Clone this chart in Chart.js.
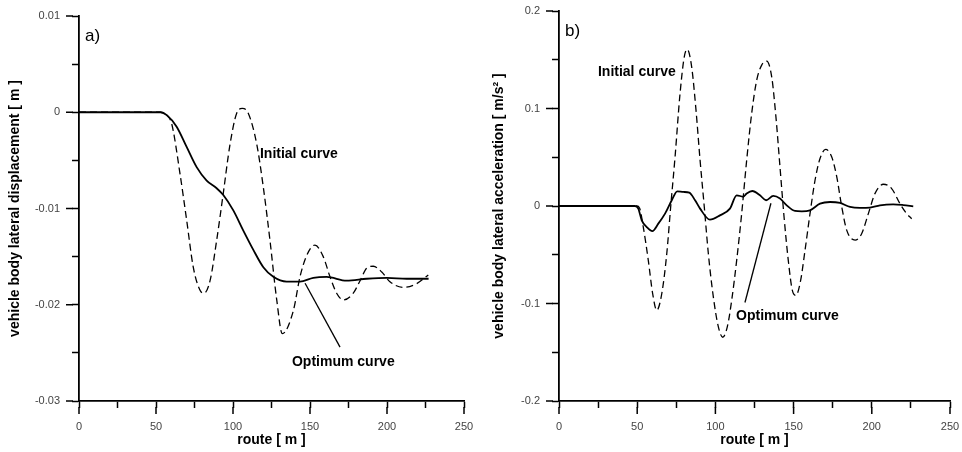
<!DOCTYPE html>
<html>
<head>
<meta charset="utf-8">
<script src="https://cdn.jsdelivr.net/npm/chart.js@4/dist/chart.umd.min.js"></script>
<style>
	body { margin: 0; background: #fff; }
	#wrap { position: relative; width: 962px; height: 452px; }
	canvas { position: absolute; top: 0; }
</style>
</head>
<body>
<div id="wrap">
	<canvas id="chartA" width="480" height="452" style="left:0"></canvas>
	<canvas id="chartB" width="482" height="452" style="left:480px"></canvas>
</div>
<script>

// panel a) lateral displacement [m]
const routeA_opt = [0, 53, 57, 63.4, 69.9, 76.4, 82.9, 89.4, 93.7, 100.2, 106.7, 113.2, 119.7, 126.2, 134.8, 143.5, 152.1, 160.8, 173.8, 186.8, 199.8, 212.8, 227];
const dispA_opt = [0, 0, -0.0003, -0.0015, -0.0036, -0.0057, -0.0071, -0.0079, -0.0086, -0.0102, -0.0123, -0.0143, -0.0161, -0.0171, -0.0176, -0.0176, -0.0172, -0.0171, -0.0175, -0.0173, -0.0172, -0.0173, -0.0173];

const routeA_init = [0, 53, 57, 60.2, 65.6, 69.9, 74.2, 78.6, 81.2, 85.1, 89.4, 93.7, 98.1, 102.4, 106, 109.9, 115.4, 119.7, 124, 128.4, 132, 139.2, 143.5, 147.8, 153.2, 158.6, 163, 167.3, 171.6, 178.1, 182.5, 186.8, 191.1, 196.6, 201.9, 210.6, 219.3, 226.8];
const dispA_init = [0, 0, -0.0003, -0.0012, -0.0064, -0.0112, -0.0161, -0.0185, -0.0188, -0.0175, -0.0133, -0.0084, -0.0033, -0.0001, 0.0004, -0.0001, -0.0033, -0.0078, -0.0133, -0.0195, -0.0230, -0.0206, -0.0171, -0.0149, -0.0138, -0.0150, -0.0171, -0.0188, -0.0195, -0.0188, -0.0175, -0.0162, -0.0160, -0.0166, -0.0176, -0.0182, -0.0178, -0.0169];

// panel b) lateral acceleration [m/s2]
const routeB_opt = [0, 48.6, 50.7, 52.9, 56.1, 59.7, 63.5, 67.8, 72.1, 75.6, 79.5, 83.3, 87, 90.2, 96.5, 102.9, 109.3, 113.6, 117.8, 120, 123.6, 128.5, 132.4, 137, 141.3, 145.6, 150.9, 155.2, 160.5, 166.9, 173.3, 179.7, 186.1, 192.5, 198.8, 205.2, 213.7, 220.1, 226.5];
const accB_opt = [0, 0, -0.0027, -0.0147, -0.0216, -0.0257, -0.0181, -0.0078, 0.0059, 0.0151, 0.0144, 0.0137, 0.0059, -0.0027, -0.014, -0.0096, -0.0027, 0.011, 0.0095, 0.0128, 0.0154, 0.011, 0.0059, 0.0103, 0.0076, 0.0007, -0.0051, -0.0055, -0.0044, 0.0024, 0.0041, 0.0031, -0.001, -0.002, -0.0017, 0.0007, 0.0017, 0.001, -0.0003];

const routeB_init = [0, 49.7, 51.5, 53.9, 57.1, 59.9, 62.5, 65.7, 68.9, 71.4, 74.2, 77.4, 80.1, 82, 84.8, 87.6, 90.2, 92.9, 95.5, 98.7, 101.9, 104.7, 107.6, 110.4, 113.6, 116.8, 120, 123.2, 126.4, 129.6, 132.8, 136, 138.7, 141.3, 143.9, 146.6, 149.2, 151.5, 154.5, 157.3, 160.5, 163.7, 166.9, 170.5, 174.4, 177.6, 180.8, 184, 189.3, 193.5, 197.8, 202, 207.4, 212.7, 218, 222.3, 225.5];
const accB_init = [0, 0, -0.002, -0.0216, -0.0558, -0.090, -0.107, -0.090, -0.049, -0.001, 0.0503, 0.1155, 0.153, 0.1607, 0.143, 0.0983, 0.047, -0.001, -0.049, -0.0935, -0.124, -0.1346, -0.124, -0.0969, -0.0558, -0.0078, 0.047, 0.095, 0.129, 0.1445, 0.1486, 0.1325, 0.0914, 0.040, -0.0113, -0.0558, -0.0866, -0.0917, -0.0763, -0.0455, -0.0078, 0.0264, 0.0487, 0.058, 0.0503, 0.0298, -0.001, -0.025, -0.035, -0.0284, -0.0078, 0.0127, 0.0223, 0.0179, 0.0024, -0.0078, -0.013];

// text labels and leader lines, in data units
const notesA = [
	{ text: 'Initial curve', x: 117.5, y: -0.0044 },
	{ text: 'Optimum curve', x: 138.3, y: -0.0260 }
];
const leaderA = [[169.5, -0.0244], [146.8, -0.01777]];
const notesB = [
	{ text: 'Initial curve', x: 24.9, y: 0.1373 },
	{ text: 'Optimum curve', x: 113.2, y: -0.1133 }
];
const leaderB = [[118.9, -0.099], [135.5, 0.0028]];

const FONT = 'Arial, "Liberation Sans", sans-serif';

function zip(xs, ys) {
	return xs.map((x, i) => ({ x: x, y: ys[i] }));
}

function isMajor(v, step) {
	return Math.abs(Math.round(v / step) * step - v) < 1e-9;
}

// longer tick marks for the labelled ticks, plus notes and panel letter
const decorPlugin = {
	id: 'decor',
	afterDraw(chart, args, opts) {
		const ctx = chart.ctx;
		const xs = chart.scales.x, ys = chart.scales.y;
		ctx.save();
		ctx.strokeStyle = '#000';
		ctx.lineWidth = 1.5;
		ctx.beginPath();
		xs.ticks.forEach(t => {
			if (isMajor(t.value, 50)) {
				const px = xs.getPixelForValue(t.value);
				ctx.moveTo(px, xs.top + 6);
				ctx.lineTo(px, xs.top + 13);
			}
		});
		ys.ticks.forEach(t => {
			if (isMajor(t.value, opts.yMajor)) {
				const py = ys.getPixelForValue(t.value);
				ctx.moveTo(ys.right - 6, py);
				ctx.lineTo(ys.right - 13, py);
			}
		});
		ctx.stroke();

		// leader line
		ctx.lineWidth = 1.3;
		ctx.beginPath();
		ctx.moveTo(xs.getPixelForValue(opts.leader[0][0]), ys.getPixelForValue(opts.leader[0][1]));
		ctx.lineTo(xs.getPixelForValue(opts.leader[1][0]), ys.getPixelForValue(opts.leader[1][1]));
		ctx.stroke();

		ctx.fillStyle = '#000';
		ctx.textBaseline = 'middle';
		ctx.textAlign = 'left';
		ctx.font = 'bold 14px ' + FONT;
		opts.notes.forEach(n => {
			ctx.fillText(n.text, xs.getPixelForValue(n.x), ys.getPixelForValue(n.y));
		});

		ctx.font = '17px ' + FONT;
		ctx.fillText(opts.letter, chart.chartArea.left + 6, chart.chartArea.top + opts.letterDy);
		ctx.restore();
	}
};

function makeChart(id, cfg) {
	const ctx = document.getElementById(id).getContext('2d');
	return new Chart(ctx, {
		type: 'line',
		data: {
			datasets: [
				{
					label: 'Optimum curve',
					data: cfg.opt,
					borderColor: '#000',
					borderWidth: 1.8,
					pointRadius: 0,
					cubicInterpolationMode: 'monotone'
				},
				{
					label: 'Initial curve',
					data: cfg.init,
					borderColor: '#000',
					borderWidth: 1.3,
					borderDash: [7, 4],
					pointRadius: 0,
					cubicInterpolationMode: 'monotone'
				}
			]
		},
		options: {
			responsive: false,
			animation: false,
			layout: { padding: { top: cfg.top, right: cfg.right, left: 0, bottom: 0 } },
			plugins: {
				legend: { display: false },
				tooltip: { enabled: false },
				decor: { yMajor: cfg.yMajor, notes: cfg.notes, leader: cfg.leader, letter: cfg.letter, letterDy: cfg.letterDy }
			},
			scales: {
				x: {
					type: 'linear',
					min: 0,
					max: 250,
					afterFit: s => { s.height = 51; s.paddingLeft = 0; s.paddingRight = 0; },
					border: { color: '#000', width: 1.8 },
					grid: { drawOnChartArea: false, drawTicks: true, tickLength: 7, tickColor: '#000', tickWidth: 1.5 },
					ticks: {
						stepSize: 25,
						padding: 12,
						color: '#444',
						font: { family: FONT, size: 11 },
						maxRotation: 0,
						autoSkip: false,
						callback: v => isMajor(v, 50) ? String(v) : ''
					},
					title: {
						display: true,
						text: 'route [ m ]',
						color: '#000',
						font: { family: FONT, size: 14, weight: 'bold' },
						padding: { top: 0, bottom: 3 }
					}
				},
				y: {
					min: cfg.ymin,
					max: cfg.ymax,
					afterFit: s => { s.width = 79; s.paddingTop = 0; s.paddingBottom = 0; },
					border: { color: '#000', width: 1.8 },
					grid: { drawOnChartArea: false, drawTicks: true, tickLength: 7, tickColor: '#000', tickWidth: 1.5 },
					ticks: {
						stepSize: cfg.yStep,
						padding: 12,
						color: '#444',
						font: { family: FONT, size: 11 },
						autoSkip: false,
						callback: v => isMajor(v, cfg.yMajor) ? String(Number(v.toFixed(3))) : ''
					},
					title: {
						display: true,
						text: cfg.ytitle,
						color: '#000',
						font: { family: FONT, size: 14, weight: 'bold' },
						padding: { top: cfg.titlePad, bottom: 0 }
					}
				}
			}
		},
		plugins: [decorPlugin]
	});
}

makeChart('chartA', {
	opt: zip(routeA_opt, dispA_opt),
	init: zip(routeA_init, dispA_init),
	ymin: -0.03, ymax: 0.01, yStep: 0.005, yMajor: 0.01,
	ytitle: 'vehicle body lateral displacement [ m ]',
	titlePad: 7,
	top: 16, right: 16,
	notes: notesA, leader: leaderA,
	letter: 'a)', letterDy: 20
});

makeChart('chartB', {
	opt: zip(routeB_opt, accB_opt),
	init: zip(routeB_init, accB_init),
	ymin: -0.2, ymax: 0.2, yStep: 0.05, yMajor: 0.1,
	ytitle: 'vehicle body lateral acceleration [ m/s² ]',
	titlePad: 11,
	top: 11, right: 12,
	notes: notesB, leader: leaderB,
	letter: 'b)', letterDy: 20
});

</script>
</body>
</html>
